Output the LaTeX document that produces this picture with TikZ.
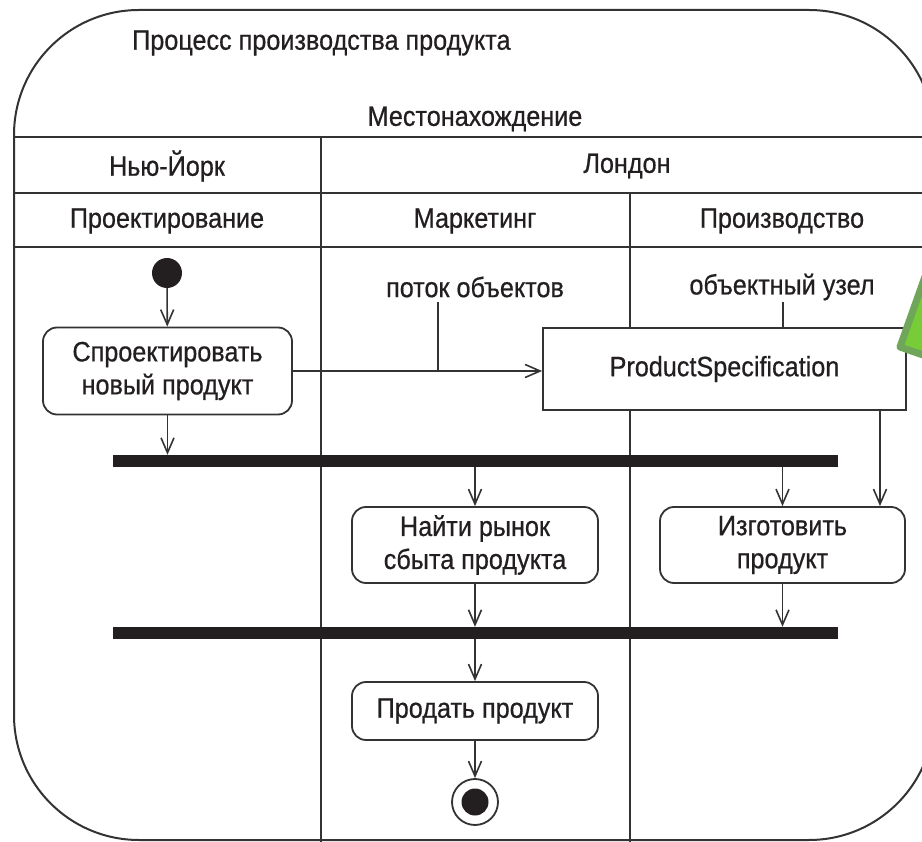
\documentclass[tikz,border=0pt]{standalone}
\usepackage{fontspec}
\setmainfont{Liberation Sans}[FakeStretch=0.9, FakeBold=0.6]
\usetikzlibrary{arrows.meta}
\definecolor{ink}{HTML}{231F20}
\definecolor{rule}{HTML}{333333}
\definecolor{leafedge}{HTML}{6FA659}
\definecolor{leaffill}{HTML}{78CC38}
\begin{document}
\begin{tikzpicture}[x=1pt,y=-1pt,
  every node/.style={font=\fontsize{28}{33}\selectfont, text=ink},
  frameline/.style={draw=rule, line width=2pt},
  gridline/.style={draw=rule, line width=2.2pt},
  action/.style={draw=rule, line width=1.8pt, rounded corners=14pt, fill=white,
                 align=center, inner sep=0pt},
  objnode/.style={draw=rule, line width=1.8pt, fill=white, inner sep=0pt},
  syncbar/.style={fill=ink, draw=none, minimum width=725pt, minimum height=12pt, inner sep=0pt},
  flow/.style={draw=rule, line width=1.6pt, -{Straight Barb[length=15pt,width=13pt]}},
  tick/.style={draw=rule, line width=1.6pt},
  caption/.style={inner sep=0pt}]

\useasboundingbox (0,0) rectangle (922,842);
\clip (0,0) rectangle (922,842);

% outer frame of the activity
\draw[frameline, rounded corners=125pt] (14,10) rectangle (934,840);

% partition grid
\draw[gridline] (14,137) -- (934,137);
\draw[gridline] (14,193) -- (934,193);
\draw[gridline] (14,247) -- (934,247);
\draw[gridline] (321,137) -- (321,842);
\draw[gridline] (630,193) -- (630,842);

% headings
\node[caption, anchor=west] (title) at (132,43) {Процесс производства продукта};
\node[caption] (loc) at (475,119) {Местонахождение};
\node[caption] (ny) at (167,166) {Нью-Йорк};
\node[caption] (lon) at (627,166) {Лондон};
\node[caption] (des) at (167,221) {Проектирование};
\node[caption] (mkt) at (475,221) {Маркетинг};
\node[caption] (prod) at (782,221) {Производство};

% comments on the object flow
\node[caption] (flowlbl) at (475,287) {поток объектов};
\node[caption] (objlbl) at (782,287) {объектный узел};

% nodes
\node[circle, fill=ink, minimum size=30pt, inner sep=0pt] (start) at (167,273) {};
\node[action, minimum width=249pt, minimum height=87pt] (design) at (167.5,371)
  {Спроектировать\\новый продукт};
\node[objnode, minimum width=363pt, minimum height=82pt] (spec) at (724.5,369)
  {ProductSpecification};
\node[syncbar] (fork) at (475.5,461) {};
\node[action, minimum width=246pt, minimum height=76pt] (market) at (475,545)
  {Найти рынок\\сбыта продукта};
\node[action, minimum width=245pt, minimum height=76pt] (make) at (782.5,545)
  {Изготовить\\продукт};
\node[syncbar] (join) at (475.5,633) {};
\node[action, minimum width=246pt, minimum height=58pt] (sell) at (475,711)
  {Продать продукт};
\node[circle, draw=rule, line width=1.8pt, fill=white, minimum size=46pt, inner sep=0pt] (final) at (475,802) {};
\node[circle, fill=ink, minimum size=27pt, inner sep=0pt] at (final) {};

% control and object flows
\draw[flow] (start) -- (design);
\draw[flow] (design.east) -- (spec.west |- design.east);
\draw[flow] (design) -- (design |- fork.north);
\draw[flow] (fork.south -| market) -- (market);
\draw[flow] (fork.south -| make) -- (make);
\coordinate (specout) at (880,410);
\draw[flow] (specout) -- (specout |- make.north);
\draw[flow] (market) -- (market |- join.north);
\draw[flow] (make) -- (make |- join.north);
\draw[flow] (join.south -| sell) -- (sell);
\draw[flow] (sell) -- (final);

% leaders from the comments
\coordinate (tap) at (438,371);
\coordinate (taptop) at (438,302);
\draw[tick] (taptop) -- (tap);
\coordinate (objtop) at (783,302);
\draw[tick] (objtop) -- (objtop |- spec.north);

% green marker at the edge
\draw[draw=leafedge, fill=leaffill, line width=7pt, line join=round]
  (900,347) -- (948,212) -- (1043,246) -- (995,380) -- cycle;
\end{tikzpicture}
\end{document}
